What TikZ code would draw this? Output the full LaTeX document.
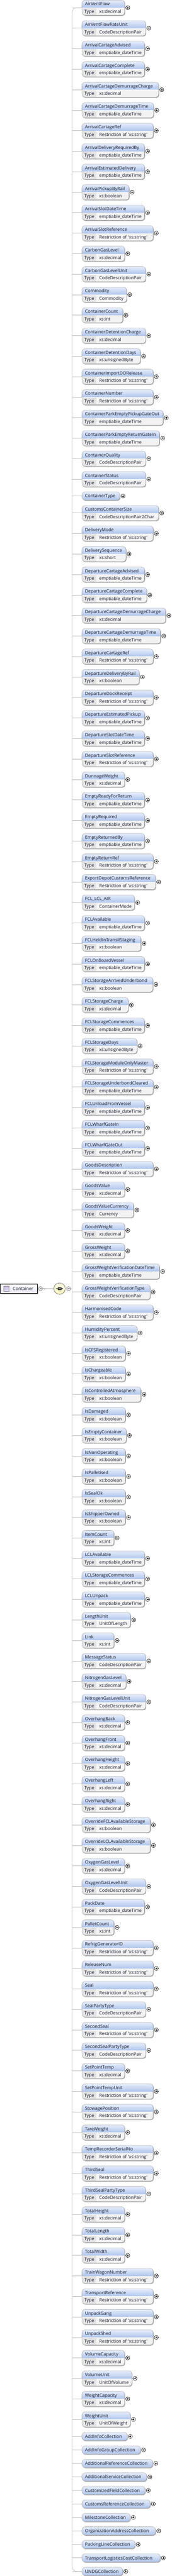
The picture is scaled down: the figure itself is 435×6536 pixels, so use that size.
\documentclass[tikz,border=0pt]{standalone}
\usepackage{fontspec}
\newfontfamily\dfont{Open Sans}
\definecolor{hdtop}{HTML}{E6EDFB}
\definecolor{hdbot}{HTML}{AFC5EC}
\definecolor{typecell}{HTML}{E3E3E3}
\definecolor{valcell}{HTML}{F2F2F2}
\definecolor{framec}{HTML}{B4B4B4}
\definecolor{shadowc}{HTML}{A6A6A6}
\definecolor{connc}{HTML}{BEBEBE}
\definecolor{inkc}{HTML}{14182A}
\definecolor{rootbot}{HTML}{E9E5F5}
\definecolor{icontop}{HTML}{C6B8E6}
\definecolor{iconbot}{HTML}{EFE9FA}
\definecolor{seqtop}{HTML}{FEFDE8}
\definecolor{seqbot}{HTML}{F6F1B8}
\tikzset{
  boxframe/.style={draw=framec,line width=.8pt,inner sep=0pt,anchor=west},
  labeltext/.style={inner sep=0pt,anchor=base west,text=inkc,font=\dfont\fontsize{11.27}{13}\selectfont},
  plusc/.style={circle,draw=black,fill=white,line width=.8pt,minimum size=10.2pt,inner sep=0pt},
  minusc/.style={circle,draw=black!70,fill=white,line width=.7pt,minimum size=10.2pt,inner sep=0pt},
  conn/.style={draw=connc,line width=.9pt},
  glyphline/.style={draw=black,line width=.7pt}
}
\newcount\elemno
\def\curY{19.5}
\newcommand\advY[1]{\pgfmathparse{\curY+#1}\xdef\curY{\pgfmathresult}}
\newcommand\plusmark[1]{\draw[glyphline] (#1.center) ++(-2.6,0) -- ++(5.2,0);\draw[glyphline] (#1.center) ++(0,-2.6) -- ++(0,5.2);}
\newcommand\elemT[3]{%
  \global\advance\elemno 1
  \pgfmathsetmacro\rr{#1/3}%
  \pgfmathsetmacro\ww{\rr-207.3}%
  \edef\nm{e\the\elemno}%
  \edef\yy{\curY}%
  \fill[shadowc,rounded corners=7pt] (209,\yy-17.4) rectangle (\rr+1.8,\yy+20.9);
  \begin{scope}
    \clip[rounded corners=7pt] (207.3,\yy-19.1) rectangle (\rr,\yy+19.1);
    \shade[top color=hdtop,bottom color=hdbot] (207.3,\yy-19.1) rectangle (\rr,\yy+.2);
    \fill[white] (207.3,\yy+.2) rectangle (\rr,\yy+19.1);
    \fill[typecell] (207.3,\yy+.9) rectangle (244.8,\yy+19.1);
    \fill[valcell] (245.6,\yy+.9) rectangle (\rr,\yy+19.1);
  \end{scope}
  \node[boxframe,rounded corners=7pt,minimum width=\ww pt,minimum height=38.2pt] (\nm) at (207.3,\yy) {};
  \node[labeltext] (\nm n) at (215,\yy-5.2) {#2};
  \node[labeltext] (\nm t) at (213.3,\yy+13.9) {Type};
  \node[labeltext] (\nm v) at (251,\yy+13.9) {#3};
  \node[plusc] (\nm p) at (\rr+8.3,\yy) {};
  \plusmark{\nm p}
  \draw[conn] (\nm.west) -- (\nm.west -| seqRight);
  \advY{52.01}%
}
\newcommand\elemS[2]{%
  \global\advance\elemno 1
  \pgfmathsetmacro\rr{#1/3}%
  \pgfmathsetmacro\ww{\rr-207.3}%
  \edef\nm{e\the\elemno}%
  \edef\yy{\curY}%
  \fill[shadowc,rounded corners=8pt] (209,\yy-8.7) rectangle (\rr+1.8,\yy+12.2);
  \shade[top color=hdtop,bottom color=hdbot,rounded corners=8pt] (207.3,\yy-10.4) rectangle (\rr,\yy+10.4);
  \node[boxframe,rounded corners=8pt,minimum width=\ww pt,minimum height=20.8pt] (\nm) at (207.3,\yy) {};
  \node[labeltext] (\nm n) at (215,\yy+4.2) {#2};
  \node[plusc] (\nm p) at (\rr+8.3,\yy) {};
  \plusmark{\nm p}
  \draw[conn] (\nm.west) -- (\nm.west -| seqRight);
  \advY{34.23}%
}
\def\EDT{emptiable\_dateTime}
\def\RES{Restriction of 'xs:string'}
\def\CDP{CodeDescriptionPair}
\def\DEC{xs:decimal}
\def\BOOL{xs:boolean}
\begin{document}
\begin{tikzpicture}[x=1pt,y=-1pt]
\useasboundingbox (0,0) rectangle (435,6536);
\fill[white] (0,0) rectangle (435,6536);
\coordinate (seqRight) at (182.7,3269.7);
% elements
\elemT{945}{AirVentFlow}{\DEC}
\elemT{1105}{AirVentFlowRateUnit}{\CDP}
\elemT{1096}{ArrivalCartageAdvised}{\EDT}
\elemT{1096}{ArrivalCartageComplete}{\EDT}
\elemT{1203}{ArrivalCartageDemurrageCharge}{\DEC}
\elemT{1165}{ArrivalCartageDemurrageTime}{\EDT}
\elemT{1162}{ArrivalCartageRef}{\RES}
\elemT{1096}{ArrivalDeliveryRequiredBy}{\EDT}
\elemT{1096}{ArrivalEstimatedDelivery}{\EDT}
\elemT{978}{ArrivalPickupByRail}{\BOOL}
\elemT{1096}{ArrivalSlotDateTime}{\EDT}
\elemT{1162}{ArrivalSlotReference}{\RES}
\elemT{945}{CarbonGasLevel}{\DEC}
\elemT{1105}{CarbonGasLevelUnit}{\CDP}
\elemT{960}{Commodity}{Commodity}
\elemT{931}{ContainerCount}{xs:int}
\elemT{1105}{ContainerDetentionCharge}{\DEC}
\elemT{1065}{ContainerDetentionDays}{xs:unsignedByte}
\elemT{1162}{ContainerImportDORelease}{\RES}
\elemT{1162}{ContainerNumber}{\RES}
\elemT{1237}{ContainerParkEmptyPickupGateOut}{\EDT}
\elemT{1210}{ContainerParkEmptyReturnGateIn}{\EDT}
\elemT{1105}{ContainerQuality}{\CDP}
\elemT{1105}{ContainerStatus}{\CDP}
\advY{-9.21}
\elemS{909}{ContainerType}
\advY{8.87}
\elemT{1203}{CustomsContainerSize}{CodeDescriptionPair2Char}
\elemT{1162}{DeliveryMode}{\RES}
\elemT{955}{DeliverySequence}{xs:short}
\elemT{1096}{DepartureCartageAdvised}{\EDT}
\elemT{1113}{DepartureCartageComplete}{\EDT}
\elemT{1257}{DepartureCartageDemurrageCharge}{\DEC}
\elemT{1218}{DepartureCartageDemurrageTime}{\EDT}
\elemT{1162}{DepartureCartageRef}{\RES}
\elemT{1056}{DepartureDeliveryByRail}{\BOOL}
\elemT{1162}{DepartureDockReceipt}{\RES}
\elemT{1096}{DepartureEstimatedPickup}{\EDT}
\elemT{1096}{DepartureSlotDateTime}{\EDT}
\elemT{1162}{DepartureSlotReference}{\RES}
\elemT{945}{DunnageWeight}{\DEC}
\elemT{1096}{EmptyReadyForReturn}{\EDT}
\elemT{1096}{EmptyRequired}{\EDT}
\elemT{1096}{EmptyReturnedBy}{\EDT}
\elemT{1162}{EmptyReturnRef}{\RES}
\elemT{1180}{ExportDepotCustomsReference}{\RES}
\elemT{1020}{FCL\_LCL\_AIR}{ContainerMode}
\elemT{1096}{FCLAvailable}{\EDT}
\elemT{1069}{FCLHeldInTransitStaging}{\BOOL}
\elemT{1096}{FCLOnBoardVessel}{\EDT}
\elemT{1159}{FCLStorageArrivedUnderbond}{\BOOL}
\elemT{972}{FCLStorageCharge}{\DEC}
\elemT{1096}{FCLStorageCommences}{\EDT}
\elemT{1039}{FCLStorageDays}{xs:unsignedByte}
\elemT{1162}{FCLStorageModuleOnlyMaster}{\RES}
\elemT{1162}{FCLStorageUnderbondCleared}{\EDT}
\elemT{1096}{FCLUnloadFromVessel}{\EDT}
\elemT{1096}{FCLWharfGateIn}{\EDT}
\elemT{1096}{FCLWharfGateOut}{\EDT}
\elemT{1162}{GoodsDescription}{\RES}
\elemT{945}{GoodsValue}{\DEC}
\elemT{1014}{GoodsValueCurrency}{Currency}
\elemT{945}{GoodsWeight}{\DEC}
\elemT{945}{GrossWeight}{\DEC}
\elemT{1210}{GrossWeightVerificationDateTime}{\EDT}
\elemT{1138}{GrossWeightVerificationType}{\CDP}
\elemT{1162}{HarmonisedCode}{\RES}
\elemT{1039}{HumidityPercent}{xs:unsignedByte}
\elemT{951}{IsCFSRegistered}{\BOOL}
\elemT{951}{IsChargeable}{\BOOL}
\elemT{1069}{IsControlledAtmosphere}{\BOOL}
\elemT{951}{IsDamaged}{\BOOL}
\elemT{958}{IsEmptyContainer}{\BOOL}
\elemT{951}{IsNonOperating}{\BOOL}
\elemT{951}{IsPalletised}{\BOOL}
\elemT{951}{IsSealOk}{\BOOL}
\elemT{951}{IsShipperOwned}{\BOOL}
\elemT{864}{ItemCount}{xs:int}
\elemT{1096}{LCLAvailable}{\EDT}
\elemT{1096}{LCLStorageCommences}{\EDT}
\elemT{1096}{LCLUnpack}{\EDT}
\elemT{990}{LengthUnit}{UnitOfLength}
\elemT{864}{Link}{xs:int}
\elemT{1105}{MessageStatus}{\CDP}
\elemT{955}{NitrogenGasLevel}{\DEC}
\elemT{1105}{NitrogenGasLevelUnit}{\CDP}
\elemT{945}{OverhangBack}{\DEC}
\elemT{945}{OverhangFront}{\DEC}
\elemT{945}{OverhangHeight}{\DEC}
\elemT{945}{OverhangLeft}{\DEC}
\elemT{945}{OverhangRight}{\DEC}
\elemT{1140}{OverrideFCLAvailableStorage}{\BOOL}
\elemT{1140}{OverrideLCLAvailableStorage}{\BOOL}
\elemT{945}{OxygenGasLevel}{\DEC}
\elemT{1105}{OxygenGasLevelUnit}{\CDP}
\elemT{1096}{PackDate}{\EDT}
\elemT{864}{PalletCount}{xs:int}
\elemT{1162}{RefrigGeneratorID}{\RES}
\elemT{1162}{ReleaseNum}{\RES}
\elemT{1162}{Seal}{\RES}
\elemT{1105}{SealPartyType}{\CDP}
\elemT{1162}{SecondSeal}{\RES}
\elemT{1105}{SecondSealPartyType}{\CDP}
\elemT{945}{SetPointTemp}{\DEC}
\elemT{1162}{SetPointTempUnit}{\RES}
\elemT{1162}{StowagePosition}{\RES}
\elemT{945}{TareWeight}{\DEC}
\elemT{1162}{TempRecorderSerialNo}{\RES}
\elemT{1162}{ThirdSeal}{\RES}
\elemT{1105}{ThirdSealPartyType}{\CDP}
\elemT{945}{TotalHeight}{\DEC}
\elemT{945}{TotalLength}{\DEC}
\elemT{945}{TotalWidth}{\DEC}
\elemT{1162}{TrainWagonNumber}{\RES}
\elemT{1162}{TransportReference}{\RES}
\elemT{1162}{UnpackGang}{\RES}
\elemT{1162}{UnpackShed}{\RES}
\elemT{945}{VolumeCapacity}{\DEC}
\elemT{1000}{VolumeUnit}{UnitOfVolume}
\elemT{945}{WeightCapacity}{\DEC}
\elemT{988}{WeightUnit}{UnitOfWeight}
\advY{-8.71}
\elemS{965}{AddInfoCollection}
\elemS{1065}{AddInfoGroupCollection}
\elemS{1158}{AdditionalReferenceCollection}
\elemS{1113}{AdditionalServiceCollection}
\elemS{1101}{CustomizedFieldCollection}
\elemS{1139}{CustomsReferenceCollection}
\elemS{987}{MilestoneCollection}
\elemS{1180}{OrganizationAddressCollection}
\elemS{1024}{PackingLineCollection}
\elemS{1215}{TransportLogisticsCostCollection}
\elemS{930}{UNDGCollection}
% trunk
\draw[conn,rounded corners=12pt] (e1.west) -| (seqRight) |- (e130.west);
% root element, compositor
\fill[shadowc] (3,3261) rectangle (97,3284);
\shade[top color=white,bottom color=rootbot] (.4,3258) rectangle (94,3281);
\node[draw=black,line width=.9pt,inner sep=0pt,anchor=north west,minimum width=93.6pt,minimum height=23pt] (root) at (.4,3258) {};
\shade[top color=icontop,bottom color=iconbot,draw=black!45,line width=.5pt] (9,3263) rectangle (22.3,3276.5);
\node[labeltext] (rootlabel) at (32.3,3273.2) {Container};
\node[minusc] (rootm) at (102.7,3269.7) {};
\node[circle,draw=black!65,line width=.8pt,minimum size=29pt,inner sep=0pt,top color=seqtop,bottom color=seqbot] (seq) at (150.7,3269.5) {};
\node[minusc] (seqm) at (173.6,3269.7) {};
\draw[draw=black!50,line width=1.2pt] (rootm) -- (seq);
\draw[conn] (seqm) -- (seqRight);
\draw[draw=black,line width=.7pt] (seq.center) ++(-8.4,0) -- ++(16.8,0);
\fill[black!45,draw=black,line width=.6pt] (147,3266.3) rectangle (154.3,3272.5);
\fill[black] (142.4,3269.5) circle (.9pt) (159,3269.5) circle (.9pt);
\draw[glyphline] (rootm.center) ++(-2.6,0) -- ++(5.2,0);
\draw[glyphline] (seqm.center) ++(-2.6,0) -- ++(5.2,0);
\end{tikzpicture}
\end{document}
